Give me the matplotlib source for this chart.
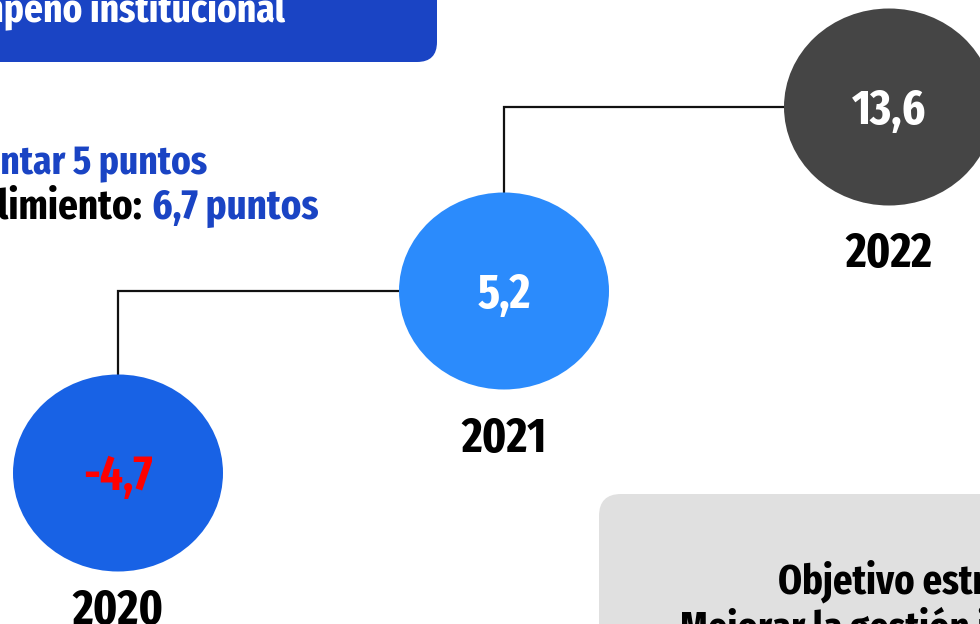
import matplotlib
matplotlib.use('Agg')
import matplotlib.pyplot as plt
from matplotlib.patches import Ellipse, FancyBboxPatch

plt.rcParams['font.family'] = ['Fira Sans Extra Condensed', 'Fira Sans Condensed',
                               'Open Sans Condensed', 'IBM Plex Sans Condensed', 'DejaVu Sans']
plt.rcParams['font.weight'] = 'bold'

# ---- data ----
years = ['2020', '2021', '2022']
values = [-4.7, 5.2, 13.6]
circle_colors = ['#1862E5', '#2B8BFC', '#454545']
title_text = 'Desempeño institucional'
goal_label = 'Meta: aumentar 5 puntos'
achieved_label = 'Nivel de cumplimiento:'
achieved_value = '6,7 puntos'
objective_title = 'Objetivo estratégico:'
objective_text = 'Mejorar la gestión institucional'

BLUE = '#1A44C4'

fig = plt.figure(figsize=(9.8, 6.24), dpi=100)
ax = fig.add_axes([0, 0, 1, 1])
ax.set_xlim(0, 980)
ax.set_ylim(624, 0)
ax.axis('off')
fig.canvas.draw()
r = fig.canvas.get_renderer()


def fit_size(s, target_px):
    t = ax.text(0, 0, s, fontsize=20)
    w = t.get_window_extent(r).width
    t.remove()
    return 20 * target_px / w


# header box
ax.add_patch(FancyBboxPatch((-40, -40), 477, 102,
                            boxstyle='round,pad=0,rounding_size=20',
                            fc=BLUE, ec='none'))
ax.text(285, 21, title_text, color='white', fontsize=fit_size('institucional', 195),
        ha='right', va='baseline')

# goal text
fs1 = fit_size('ntar 5 puntos', 207)
ax.text(207, 173, goal_label, color=BLUE, fontsize=fs1, ha='right', va='baseline')
fs2 = fit_size('6,7 puntos', 167)
ax.text(318, 219, achieved_value, color=BLUE, fontsize=fs2, ha='right', va='baseline')
ax.text(142, 219, achieved_label, color='black', fontsize=fs2, ha='right', va='baseline')

# gray objective box
ax.add_patch(FancyBboxPatch((599, 494), 420, 200,
                            boxstyle='round,pad=0,rounding_size=22',
                            fc='#E0E0E0', ec='none'))
ax.text(778, 593, objective_title, color='black', fontsize=30, ha='left', va='baseline')
ax.text(680, 640, objective_text, color='black', fontsize=30, ha='left', va='baseline')

# layout of the timeline
cx = [118, 504, 889]
cy = [473, 291, 107]
year_y = [624, 452, 267]
W, H = 210, 197

# connectors
for i in range(len(years) - 1):
    ax.plot([cx[i], cx[i], cx[i + 1] - W / 2], [cy[i] - H / 2, cy[i + 1], cy[i + 1]],
            color='#111111', lw=1.6, solid_joinstyle='miter', zorder=1)

for i, (yr, v, c) in enumerate(zip(years, values, circle_colors)):
    ax.add_patch(Ellipse((cx[i], cy[i]), W, H, fc=c, ec='none', zorder=2))
    label = f'{v:.1f}'.replace('.', ',')
    ax.text(cx[i], cy[i] + 17, label, color='#FF0000' if v < 0 else 'white',
            fontsize=35, ha='center', va='baseline', zorder=3)
    ax.text(cx[i], year_y[i], yr, color='black', fontsize=35,
            ha='center', va='baseline', zorder=3)

fig.savefig('out.png', dpi=100)
